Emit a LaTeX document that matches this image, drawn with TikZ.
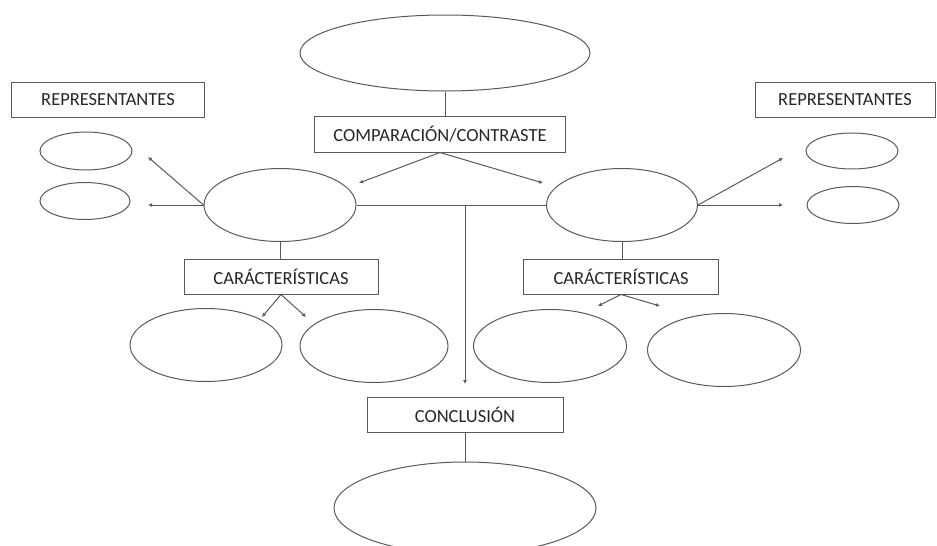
\documentclass[tikz,border=0pt]{standalone}
\usepackage{fontspec}
\setmainfont{Carlito}
\usetikzlibrary{shapes.geometric,arrows.meta}
\definecolor{ln}{gray}{0.35}
\definecolor{tx}{gray}{0.15}
\tikzset{
  oval/.style={ellipse,draw=ln,line width=1pt,inner sep=0pt},
  lbox/.style={rectangle,draw=ln,line width=1pt,inner sep=0pt,text=tx,font=\fontsize{18.5}{22}\selectfont},
  conn/.style={draw=ln,line width=1pt},
  arr/.style={conn,-{Latex[length=4pt,width=4pt]}}
}
\begin{document}
\begin{tikzpicture}[x=1pt,y=-1pt]
\useasboundingbox (0,0) rectangle (937,546);
\clip (0,0) rectangle (937,546);
% top
\node[oval,minimum width=290pt,minimum height=76pt] (top) at (445,53) {};
\node[lbox,minimum width=251pt,minimum height=36pt] (comp) at (440,134) {COMPARACIÓN/CONTRASTE};
% main ellipses
\node[oval,minimum width=152pt,minimum height=73pt] (L) at (280,205) {};
\node[oval,minimum width=151pt,minimum height=73pt] (R) at (622,205) {};
% representantes
\node[lbox,minimum width=193pt,minimum height=35pt] (repL) at (108,100) {REPRESENTANTES};
\node[lbox,minimum width=180pt,minimum height=35pt] (repR) at (845,100) {REPRESENTANTES};
\node[oval,minimum width=92pt,minimum height=38pt] (l1) at (86,151) {};
\node[oval,minimum width=90pt,minimum height=37pt] (l2) at (85,201) {};
\node[oval,minimum width=92pt,minimum height=36pt] (r1) at (852,151) {};
\node[oval,minimum width=92pt,minimum height=37pt] (r2) at (853,205) {};
% caracteristicas
\node[lbox,minimum width=194pt,minimum height=35pt] (carL) at (281,276.5) {CARÁCTERÍSTICAS};
\node[lbox,minimum width=195pt,minimum height=35pt] (carR) at (621,276.5) {CARÁCTERÍSTICAS};
\node[oval,minimum width=152pt,minimum height=73pt] (cl1) at (206,345) {};
\node[oval,minimum width=148pt,minimum height=73pt] (cl2) at (374,346) {};
\node[oval,minimum width=153pt,minimum height=73pt] (cr1) at (550,346) {};
\node[oval,minimum width=153pt,minimum height=73pt] (cr2) at (724,350) {};
% conclusion
\node[lbox,minimum width=196pt,minimum height=35pt] (conc) at (465,414.5) {CONCLUSIÓN};
\node[oval,minimum width=262pt,minimum height=92pt] (bot) at (465,508) {};
% coordinates for arrow ends
\coordinate (cA) at (359,183);
\coordinate (cB) at (543,183);
\coordinate (lA) at (148,157);
\coordinate (lB) at (148,205);
\coordinate (rA) at (783,158);
\coordinate (rB) at (783,205);
\coordinate (kA) at (262,317);
\coordinate (kB) at (306,317);
\coordinate (mA) at (598,306);
\coordinate (mB) at (660,306);
\coordinate (v) at (465,205);
\coordinate (vE) at (465,384);
% connectors
\draw[conn] (top.south) -- (top.south |- comp.north);
\draw[arr] (comp.south) -- (cA);
\draw[arr] (comp.south) -- (cB);
\draw[arr] (L.west) -- (lA);
\draw[arr] (L.west) -- (lB);
\draw[arr] (R.east) -- (rA);
\draw[arr] (R.east) -- (rB);
\draw[conn] (L.east) -- (R.west);
\draw[arr] (v) -- (vE);
\draw[conn] (L.south) -- (L.south |- carL.north);
\draw[conn] (R.south) -- (R.south |- carR.north);
\draw[arr] (carL.south) -- (kA);
\draw[arr] (carL.south) -- (kB);
\draw[arr] (carR.south) -- (mA);
\draw[arr] (carR.south) -- (mB);
\draw[conn] (conc.south) -- (bot.north);
\end{tikzpicture}
\end{document}
